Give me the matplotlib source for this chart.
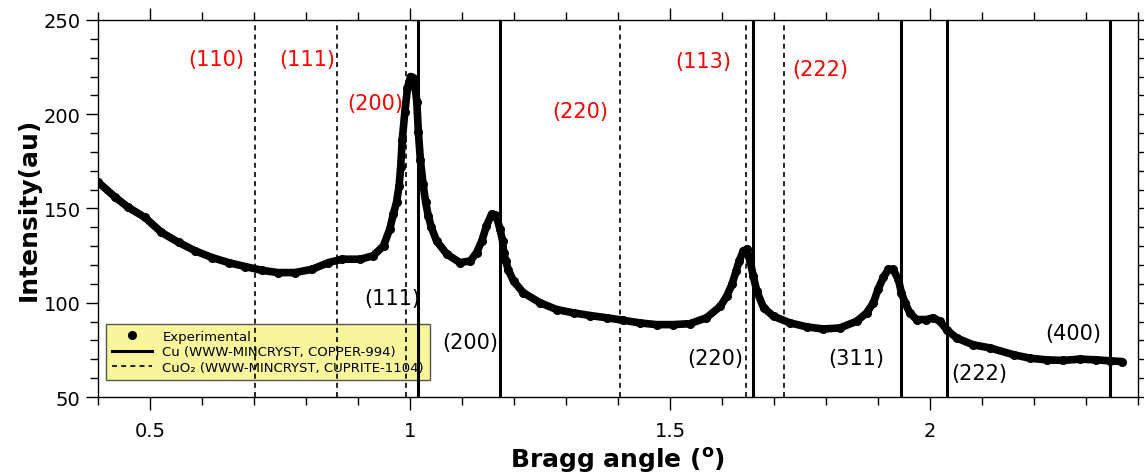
import matplotlib
matplotlib.use('Agg')
import matplotlib.pyplot as plt
from matplotlib.lines import Line2D
from matplotlib.ticker import MultipleLocator, FuncFormatter

# experimental pattern
bragg = [0.400, 0.433, 0.458, 0.490, 0.522, 0.555, 0.587, 0.619, 0.651, 0.683,
         0.715, 0.746, 0.778, 0.811, 0.843, 0.869, 0.904, 0.929, 0.949, 0.961,
         0.968, 0.974, 0.979, 0.982, 0.985, 0.990, 0.995, 1.001, 1.005, 1.009,
         1.013, 1.016, 1.020, 1.025, 1.030, 1.035, 1.041, 1.051, 1.071, 1.096,
         1.116, 1.128, 1.138, 1.147, 1.157, 1.163, 1.167, 1.173, 1.178, 1.180,
         1.184, 1.189, 1.199, 1.218, 1.250, 1.282, 1.315, 1.347, 1.379, 1.410,
         1.442, 1.474, 1.506, 1.538, 1.570, 1.597, 1.609, 1.619, 1.627, 1.633,
         1.641, 1.648, 1.654, 1.660, 1.667, 1.680, 1.699, 1.731, 1.763, 1.794,
         1.826, 1.859, 1.878, 1.891, 1.900, 1.910, 1.920, 1.929, 1.939, 1.945,
         1.952, 1.961, 1.974, 1.993, 2.006, 2.019, 2.032, 2.051, 2.083, 2.116,
         2.161, 2.192, 2.224, 2.256, 2.288, 2.320, 2.346, 2.369]
intensity = [164.0, 156.0, 150.6, 145.3, 137.3, 132.0, 127.5, 124.0, 121.3, 119.2,
             117.2, 116.0, 116.0, 117.7, 121.3, 123.1, 123.1, 124.9, 130.2, 139.1,
             147.1, 153.3, 162.2, 172.0, 186.2, 201.3, 213.7, 220.0, 219.0, 216.4,
             206.6, 190.6, 175.5, 163.1, 153.3, 146.2, 140.0, 132.8, 125.7, 121.3,
             122.2, 126.6, 132.8, 140.8, 147.1, 146.5, 145.0, 139.0, 132.8, 126.6,
             122.0, 117.5, 111.5, 105.3, 100.0, 96.4, 94.6, 93.2, 92.0, 90.7,
             89.3, 88.4, 88.4, 88.9, 92.0, 98.2, 103.5, 109.7, 116.8, 122.2,
             127.5, 128.4, 122.2, 114.2, 106.0, 97.3, 92.8, 89.3, 87.2, 86.1,
             86.6, 90.2, 94.6, 100.0, 107.1, 113.4, 117.7, 117.7, 112.4, 105.3,
             100.0, 94.6, 91.1, 91.1, 92.0, 90.2, 85.7, 81.3, 77.7, 76.0,
             72.4, 70.6, 69.7, 69.4, 70.1, 69.7, 69.2, 68.8]

# reference positions
cu_pos = [1.016, 1.173, 1.659, 1.945, 2.032, 2.346]
cu_hkl = ['(111)', '(200)', '(220)', '(311)', '(222)', '(400)']
cu_lbl_x = [0.965, 1.115, 1.587, 1.858, 2.095, 2.275]
cu_lbl_y = [102.3, 79.3, 70.8, 70.8, 62.8, 84.1]

cuo_pos = [0.702, 0.860, 0.993, 1.404, 1.647, 1.720]
cuo_hkl = ['(110)', '(111)', '(200)', '(220)', '(113)', '(222)']
cuo_lbl_x = [0.627, 0.802, 0.933, 1.327, 1.563, 1.788]
cuo_lbl_y = [229.2, 229.2, 205.7, 201.5, 228.1, 223.9]

fig = plt.figure(figsize=(11.44, 4.77), dpi=100)
ax = fig.add_axes([0.0857, 0.1656, 0.9091, 0.7904])

for x in cu_pos:
    ax.axvline(x, color='black', lw=2.2, zorder=3)
for x in cuo_pos:
    ax.axvline(x, color='black', lw=1.2, ls=(0, (3, 2.5)), zorder=3)

ax.plot(bragg, intensity, '-', color='black', lw=5.5, zorder=4, solid_capstyle='round')
ax.plot(bragg, intensity, 'o', color='black', ms=5.5, zorder=4)

for t, x, y in zip(cu_hkl, cu_lbl_x, cu_lbl_y):
    ax.text(x, y, t, color='black', fontsize=15, ha='center', va='center', zorder=5)
for t, x, y in zip(cuo_hkl, cuo_lbl_x, cuo_lbl_y):
    ax.text(x, y, t, color='red', fontsize=15, ha='center', va='center', zorder=5)

ax.set_xlim(0.4, 2.4)
ax.set_ylim(50, 250)
ax.xaxis.set_major_locator(MultipleLocator(0.5))
ax.xaxis.set_minor_locator(MultipleLocator(0.1))
ax.yaxis.set_major_locator(MultipleLocator(50))
ax.yaxis.set_minor_locator(MultipleLocator(10))
ax.xaxis.set_major_formatter(FuncFormatter(lambda v, p: '%g' % v))
ax.tick_params(which='both', direction='out', top=True, right=True, labelsize=14, width=1)
ax.tick_params(which='major', length=9)
ax.tick_params(which='minor', length=5.5)
ax.tick_params(axis='x', pad=8)
for s in ax.spines.values():
    s.set_linewidth(1.0)

ax.set_xlabel(r'Bragg angle ($^{\mathbf{o}}$)', fontsize=18, fontweight='bold', labelpad=4)
ax.set_ylabel('Intensity(au)', fontsize=18, fontweight='bold', labelpad=2)

handles = [Line2D([], [], ls='none', marker='o', color='black', ms=5.5),
           Line2D([], [], color='black', lw=2.2),
           Line2D([], [], color='black', lw=1.2, ls=(0, (3, 2.5)))]
labels = ['Experimental', 'Cu (WWW-MINCRYST, COPPER-994)', 'CuO\u2082 (WWW-MINCRYST, CUPRITE-1104)']
leg = ax.legend(handles, labels, loc='lower left', bbox_to_anchor=(0.008, 0.045),
                borderaxespad=0, fontsize=9.5, fancybox=False, framealpha=1,
                facecolor='#f8f59a', edgecolor='#555555', handlelength=3,
                labelspacing=0.2, borderpad=0.45)
leg.set_zorder(2)

fig.savefig('out.png', dpi=100)
